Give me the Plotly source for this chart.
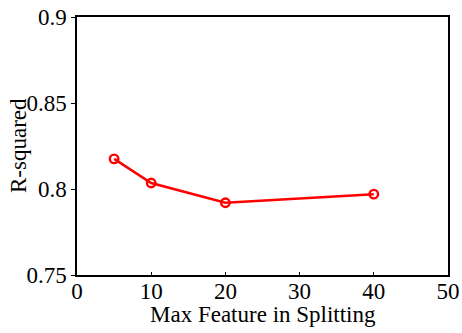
import plotly.graph_objects as go

max_feature = [5, 10, 20, 40]
r_squared = [0.8175, 0.8035, 0.792, 0.797]
x_ticks = [0, 10, 20, 30, 40, 50]
y_ticks = [0.75, 0.8, 0.85, 0.9]
y_tick_labels = ["0.75", "0.8", "0.85", "0.9"]
x_title = "Max Feature in Splitting"
y_title = "R-squared"

font_family = "Liberation Serif"

fig = go.Figure()
fig.add_trace(go.Scatter(
    x=max_feature, y=r_squared, mode="lines+markers",
    line=dict(color="#ff0000", width=2.5),
    marker=dict(symbol="circle-open", size=8.5, color="#ff0000", line=dict(width=2.4, color="#ff0000")),
    showlegend=False,
))

fig.update_layout(
    width=462, height=333,
    margin=dict(l=77, r=14, t=17, b=58),
    paper_bgcolor="white", plot_bgcolor="white",
    font=dict(family=font_family, size=23, color="black"),
    xaxis=dict(
        range=[0, 50], tickvals=x_ticks, ticks="inside", ticklen=3, tickwidth=1,
        tickcolor="black", showline=True, linecolor="black", linewidth=1.5, mirror=True,
        showgrid=False, zeroline=False, automargin=False, ticklabelstandoff=-5,
        tickfont=dict(family=font_family, size=23),
    ),
    yaxis=dict(
        range=[0.75, 0.9], tickvals=y_ticks, ticktext=y_tick_labels, ticks="outside", ticklen=4,
        tickwidth=1, tickcolor="black", showline=True, linecolor="black", linewidth=1.5, mirror=True,
        showgrid=False, zeroline=False, automargin=False,
        tickfont=dict(family=font_family, size=23),
    ),
    annotations=[
        dict(text=x_title, xref="paper", yref="paper", x=0.5, y=0, yshift=-39,
             xanchor="center", yanchor="middle", showarrow=False,
             font=dict(family=font_family, size=23)),
        dict(text=y_title, xref="paper", yref="paper", x=0, y=0.5, xshift=-59,
             xanchor="center", yanchor="middle", textangle=-90, showarrow=False,
             font=dict(family=font_family, size=23)),
    ],
)

fig.write_html("out.html")
